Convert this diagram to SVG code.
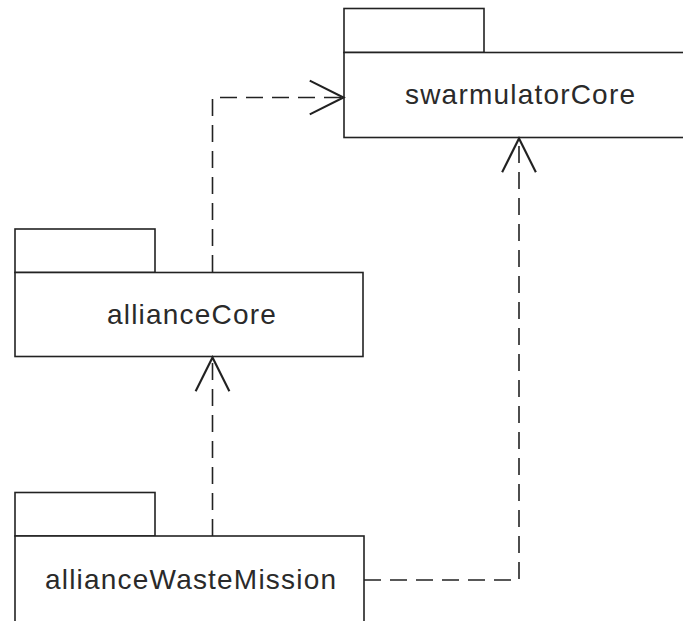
<svg xmlns="http://www.w3.org/2000/svg" width="683" height="621" viewBox="0 0 683 621">
  <style>
    .pkg { fill: #ffffff; stroke: #222222; stroke-width: 1.6; }
    .label { font-family: "Liberation Sans", Arial, sans-serif; font-size: 28px; letter-spacing: 1.2px; fill: #2a2a2a; }
    .dep { fill: none; stroke: #222222; stroke-width: 1.6; stroke-dasharray: 17 9; marker-end: url(#open); }
  </style>
  <defs>
    <marker id="open" markerUnits="userSpaceOnUse" markerWidth="40" markerHeight="40" refX="0" refY="0" viewBox="-30 -16 32 32" orient="auto" overflow="visible">
      <path d="M-27,-13.5 L0,0 L-27,13.5" fill="none" stroke="#222222" stroke-width="1.7" stroke-dasharray="none"/>
    </marker>
  </defs>
  <rect width="683" height="621" fill="#ffffff"/>

  <g id="swarmulatorCore">
    <rect class="pkg" x="344" y="8.5" width="140" height="44"/>
    <rect class="pkg" x="344" y="52.5" width="345" height="85"/>
    <text class="label" x="405" y="104">swarmulatorCore</text>
  </g>

  <g id="allianceCore">
    <rect class="pkg" x="15" y="229" width="140" height="43.5"/>
    <rect class="pkg" x="15" y="272.5" width="348" height="84"/>
    <text class="label" x="107" y="324">allianceCore</text>
  </g>

  <g id="allianceWasteMission">
    <rect class="pkg" x="15" y="492.5" width="140" height="43.5"/>
    <rect class="pkg" x="15" y="536" width="349" height="95"/>
    <text class="label" x="45" y="589">allianceWasteMission</text>
  </g>

  <g id="connectors">
    <path class="dep" d="M212.5,272 V97.5 H343.5"/>
    <path class="dep" d="M212.5,536 V357.5"/>
    <path class="dep" d="M364,580 H519 V138.5"/>
  </g>
</svg>
